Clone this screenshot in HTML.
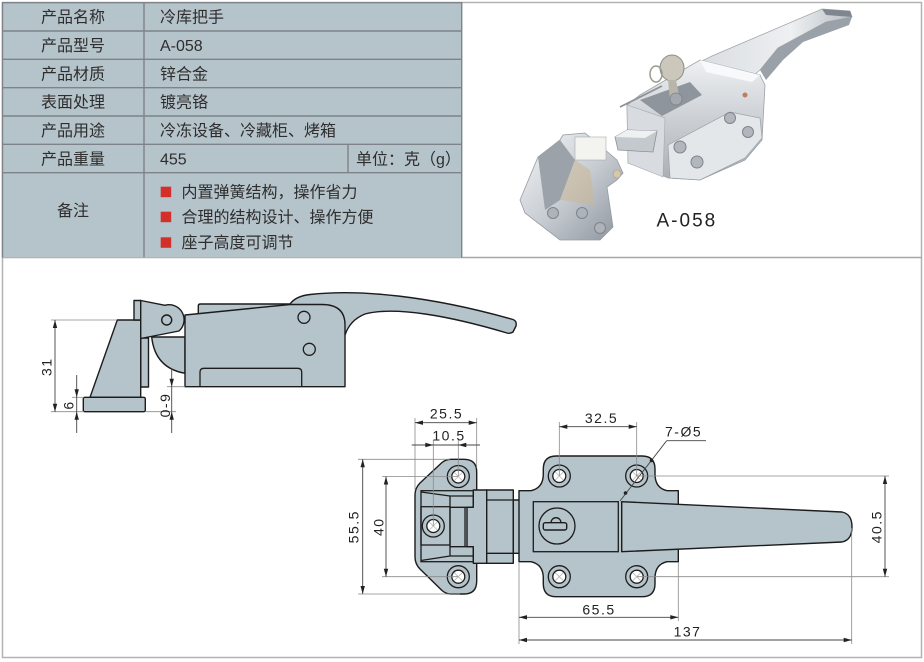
<!DOCTYPE html>
<html><head><meta charset="utf-8">
<style>
html,body{margin:0;padding:0;background:#fff;}
svg{display:block;}
.t{font-family:"Liberation Sans","Noto Sans CJK SC",sans-serif;font-size:16px;fill:#2e2e2e;}
.d{font-family:"Liberation Sans",sans-serif;font-size:14px;fill:#222;letter-spacing:1.5px;}
.o{fill:#b5c3ca;stroke:#1c1c1c;stroke-width:1.4;stroke-linejoin:round;}
.n{fill:none;stroke:#1c1c1c;stroke-width:1.3;}
.e{stroke:#8a8a8a;stroke-width:0.8;fill:none;}
.dl{stroke:#444;stroke-width:0.9;fill:none;}
.ah{fill:#222;}
</style></head>
<body>
<svg width="924" height="662" viewBox="0 0 924 662" xmlns="http://www.w3.org/2000/svg">
<defs>
<linearGradient id="ch" x1="0" y1="0" x2="1" y2="1">
<stop offset="0" stop-color="#f4f6f8"/><stop offset="0.5" stop-color="#c9ced4"/><stop offset="1" stop-color="#8c939b"/>
</linearGradient>
<linearGradient id="ch2" x1="0" y1="0" x2="0" y2="1">
<stop offset="0" stop-color="#eef0f2"/><stop offset="1" stop-color="#a9afb6"/>
</linearGradient>
<linearGradient id="hd" x1="0" y1="0" x2="1" y2="0">
<stop offset="0" stop-color="#d9dde1"/><stop offset="0.6" stop-color="#eef0f2"/><stop offset="1" stop-color="#b8bec4"/>
</linearGradient>
<g id="hole">
<circle r="11" fill="#b5c3ca" stroke="#1c1c1c" stroke-width="1.3"/>
<circle r="6.5" fill="#fff" stroke="#1c1c1c" stroke-width="1.3"/>
<path d="M-4,-4L4,4M-4,4L4,-4" stroke="#b8b8b8" stroke-width="0.8"/>
</g>
<path id="aU" d="M0,0 L-2.2,8 L2.2,8 Z"/>
<path id="aD" d="M0,0 L-2.2,-8 L2.2,-8 Z"/>
<path id="aL" d="M0,0 L8,-2.2 L8,2.2 Z"/>
<path id="aR" d="M0,0 L-8,-2.2 L-8,2.2 Z"/>
</defs>

<!-- outer frame -->
<rect x="2.5" y="2.5" width="919" height="655" fill="none" stroke="#b3b3b3" stroke-width="1.5"/>
<line x1="2" y1="257.5" x2="922" y2="257.5" stroke="#a8a8a8" stroke-width="1.5"/>

<!-- table -->
<rect x="2.5" y="2.5" width="459.2" height="255" fill="#b5c3ca"/>
<g stroke="#7d8388" stroke-width="1.4">
<line x1="2" y1="2.7" x2="462" y2="2.7"/>
<line x1="2" y1="31" x2="462" y2="31"/>
<line x1="2" y1="59.3" x2="462" y2="59.3"/>
<line x1="2" y1="87.7" x2="462" y2="87.7"/>
<line x1="2" y1="116" x2="462" y2="116"/>
<line x1="2" y1="144.3" x2="462" y2="144.3"/>
<line x1="2" y1="172.7" x2="462" y2="172.7"/>
<line x1="144" y1="2.7" x2="144" y2="257.3"/>
<line x1="348" y1="144.3" x2="348" y2="172.7"/>
<line x1="461.7" y1="2" x2="461.7" y2="257.5"/>
<line x1="2.5" y1="2" x2="2.5" y2="257.5"/>
</g>
<g class="t" text-anchor="middle">
<text x="73" y="22.5">产品名称</text>
<text x="73" y="51">产品型号</text>
<text x="73" y="79.3">产品材质</text>
<text x="73" y="107.6">表面处理</text>
<text x="73" y="136">产品用途</text>
<text x="73" y="164.3">产品重量</text>
<text x="73" y="216">备注</text>
</g>
<g class="t">
<text x="160" y="22.5">冷库把手</text>
<text x="160" y="51">A-058</text>
<text x="160" y="79.3">锌合金</text>
<text x="160" y="107.6">镀亮铬</text>
<text x="160" y="136">冷冻设备、冷藏柜、烤箱</text>
<text x="160" y="164.3">455</text>
<text x="356" y="164.3">单位：克（g）</text>
<text x="181.5" y="197.4">内置弹簧结构，操作省力</text>
<text x="181.5" y="222.4">合理的结构设计、操作方便</text>
<text x="181.5" y="248">座子高度可调节</text>
</g>
<g fill="#d3302a">
<rect x="160.7" y="186.7" width="10.5" height="10.5"/>
<rect x="160.7" y="211.7" width="10.5" height="10.5"/>
<rect x="160.7" y="237.3" width="10.5" height="10.5"/>
</g>

<!-- photo -->
<g>
<!-- handle -->
<polygon points="700,62 712,56 822,9 850,11 852,17 826,22 778,48 760,70 742,85 722,80" fill="url(#hd)" stroke="#a2a8ae" stroke-width="0.8"/>
<polygon points="760,70 778,48 826,22 852,17 849,25 803,42 783,60 766,80" fill="#9aa1a9"/>
<polygon points="822,9 850,11 852,17 826,15" fill="#7f868e"/>
<!-- body -->
<polygon points="627,105 640,95 700,60 760,75 765,85 762,140 745,160 700,180 668,178 655,172 628,163" fill="url(#ch2)" stroke="#9ba1a8" stroke-width="0.8"/>
<polygon points="627,105 665,118 663,177 628,163" fill="#d8dbdf" stroke="#a4aab0" stroke-width="0.6"/>
<polygon points="640,100 690,82 702,95 662,116" fill="#8f959c"/>
<polygon points="700,60 760,75 752,82 706,72" fill="#f8f9fa"/>
<polygon points="668,145 730,112 760,118 762,138 745,158 700,180 670,178" fill="#e4e7ea" stroke="#9aa0a6" stroke-width="0.7"/>
<g fill="#b2b7bd" stroke="#7d848b" stroke-width="1">
<circle cx="680" cy="147" r="6"/><circle cx="697" cy="162" r="6"/>
<circle cx="730" cy="118" r="5.5"/><circle cx="748" cy="132" r="5.5"/>
</g>
<circle cx="745" cy="95" r="2.5" fill="#b98060"/>
<!-- tongue -->
<polygon points="615,137 627,130 657,131 653,152 618,150" fill="#c4c9ce" stroke="#8b9198" stroke-width="0.8"/>
<polygon points="615,137 627,130 657,131 645,138" fill="#eef0f2"/>
<!-- key -->
<line x1="620" y1="107" x2="662" y2="86" stroke="#8d9298" stroke-width="1.8"/>
<ellipse cx="672" cy="68" rx="12" ry="13" fill="#cbc7bb" stroke="#8c8c84" stroke-width="1"/>
<ellipse cx="656" cy="74" rx="6" ry="8" fill="none" stroke="#9a9a92" stroke-width="1.5"/>
<polygon points="668,80 676,80 680,100 670,100" fill="#b9b5aa"/>
<circle cx="676" cy="99" r="6" fill="#a3a8ae" stroke="#7c8288" stroke-width="0.8"/>
<!-- keeper -->
<polygon points="520,200 538,157 560,140 563,135 585,133 617,160 623,173 617,180 607,187 613,227 600,240 560,240 525,213" fill="url(#ch)" stroke="#959ba2" stroke-width="0.8"/>
<polygon points="538,157 560,140 575,160 560,200 545,210" fill="#9ca2aa"/>
<polygon points="560,200 575,160 590,170 595,205" fill="#c9b79a" opacity="0.6"/>
<rect x="575" y="137" width="31" height="23" fill="#f3f3ef" stroke="#aaa" stroke-width="0.6"/>
<g fill="#aeb3b9" stroke="#7d848b" stroke-width="1">
<circle cx="553" cy="213" r="5.5"/><circle cx="582" cy="213" r="5.5"/><circle cx="600" cy="228" r="5.5"/>
</g>
<circle cx="617" cy="174" r="4" fill="#d8c8a8" stroke="#999" stroke-width="0.6"/>
<text x="656.5" y="226.7" font-family="Liberation Sans,sans-serif" font-size="19" fill="#222" letter-spacing="2">A-058</text>
</g>

<!-- SIDE VIEW -->
<rect class="o" x="140.7" y="338" width="7.8" height="49"/>
<polygon class="o" points="90,397.3 117.3,320 140.7,320 140.7,397.3"/>
<rect class="o" x="134" y="300.5" width="6.7" height="19.5"/>
<rect class="o" x="83.3" y="397.3" width="62" height="14.4" rx="1.5"/>
<path class="o" d="M151.7,337 L185,337 L185,373.3 Q155,368 151.7,337 Z"/>
<path class="o" d="M140.7,300.5 L165,305.3 A15,15 0 0 1 179,331 L140.7,338.5 Z"/>
<circle class="o" cx="166.7" cy="320" r="5"/>
<path class="o" d="M198.3,315 L198.3,306 Q198.3,304 200.5,304 L300,304 L300,315 Z"/>
<path class="o" d="M290,304 Q296,296 310,294.5 C360,289 430,296 513,319.5 Q517,321 516,326 L513,332 Q510,334 507,333 C450,316 395,306 365,314 Q350,320 345,335 L330,335 Z"/>
<path class="o" d="M185,315 L290,304.5 L322,304.5 Q345,304.5 345,325 L345,386.7 L185,386.7 Z"/>
<path class="n" d="M200,386.7 L200,372 Q200,368.3 204,368.3 L297.7,368.3 Q301.7,368.3 301.7,372 L301.7,386.7"/>
<circle class="n" cx="304" cy="317.3" r="6"/>
<circle class="n" cx="309.3" cy="349.3" r="6"/>

<!-- side dims -->
<line class="e" x1="51" y1="320" x2="117" y2="320"/>
<line class="e" x1="51" y1="411.7" x2="84" y2="411.7"/>
<line class="dl" x1="55" y1="320" x2="55" y2="411.7"/>
<use href="#aU" class="ah" x="55" y="320"/>
<use href="#aD" class="ah" x="55" y="411.7"/>
<text class="d" text-anchor="middle" transform="translate(51.7,366.7) rotate(-90)">31</text>

<line class="e" x1="72" y1="397.3" x2="84" y2="397.3"/>
<line class="dl" x1="76.7" y1="375" x2="76.7" y2="433"/>
<use href="#aD" class="ah" x="76.7" y="397.3"/>
<use href="#aU" class="ah" x="76.7" y="411.7"/>
<text class="d" text-anchor="middle" transform="translate(73.3,405) rotate(-90)">6</text>

<line class="e" x1="167" y1="386.7" x2="185" y2="386.7"/>
<line class="e" x1="145" y1="411.7" x2="176" y2="411.7"/>
<line class="dl" x1="171.7" y1="368" x2="171.7" y2="433"/>
<use href="#aD" class="ah" x="171.7" y="386.7"/>
<use href="#aU" class="ah" x="171.7" y="411.7"/>
<text class="d" text-anchor="middle" transform="translate(170,405) rotate(-90)">0-9</text>

<!-- TOP VIEW -->
<!-- keeper -->
<path class="o" d="M476.7,490 L476.7,472 Q476.7,459.3 464,459.3 L451,459.3 Q446,459.3 442,462.5 L420,483 Q415,488 415,495 L415,557 Q415,564 420,569 L442,590.5 Q446,594 451,594 L464,594 Q476.7,594 476.7,581 L476.7,563 Z"/>
<rect class="n" x="421" y="490.7" width="52.3" height="71"/>
<path class="n" d="M421,492 L450,496 M421,560.5 L450,556"/>
<rect class="n" x="421" y="506.7" width="29" height="38.3"/>
<path class="n" d="M450,496 L473.3,496 M450,556 L473.3,556 M450,496 L450,556 M465,507.3 L465,546.7 M450,507.3 L473.3,507.3 M450,546.7 L473.3,546.7"/>
<path class="o" d="M473.3,490 L486.7,490 L486.7,563.3 L473.3,563.3 L473.3,546.7 L467,546.7 L467,507.3 L473.3,507.3 Z"/>
<rect class="o" x="486.7" y="490" width="26.6" height="73.3"/>
<path class="n" d="M486.7,500 L513.3,500 M486.7,553.3 L513.3,553.3"/>
<rect class="o" x="513.3" y="500" width="6" height="53.3"/>
<use href="#hole" x="458.3" y="476.5"/>
<use href="#hole" x="458.3" y="576.7"/>
<use href="#hole" x="433.3" y="526"/>

<!-- main plate -->
<path class="o" d="M519,490.7 L531,490.7 Q543.3,488 543.3,474 L543.3,469 Q543.3,456 556.3,456 L642,456 Q655,456 655,469 L655,474 Q655,488 667,490.7 L678.3,490.7 L678.3,561.7 L667,561.7 Q655,564.5 655,578 L655,583.7 Q655,596.7 642,596.7 L556.3,596.7 Q543.3,596.7 543.3,583.7 L543.3,578 Q543.3,564.5 531,561.7 L519,561.7 Z"/>
<rect class="n" x="533.3" y="501.7" width="85" height="50"/>
<line class="n" x1="621.7" y1="501.7" x2="621.7" y2="551.7"/>
<circle class="n" cx="557" cy="526" r="18"/>
<path class="n" d="M551,522.7 A5,5 0 0 1 561,522.7"/>
<rect class="o" x="543.3" y="522.7" width="23.4" height="7.3" rx="2"/>
<path class="o" d="M621.7,501.7 L842,512 Q852,514 852,527 Q852,540 842,542 L621.7,551.7 Z"/>
<use href="#hole" x="559.3" y="476"/>
<use href="#hole" x="636.7" y="476"/>
<use href="#hole" x="559.3" y="576.7"/>
<use href="#hole" x="636.7" y="576.7"/>

<!-- top view dims -->
<line class="e" x1="415" y1="418" x2="415" y2="490"/>
<line class="e" x1="476.7" y1="418" x2="476.7" y2="468"/>
<line class="dl" x1="415" y1="422.7" x2="476.7" y2="422.7"/>
<use href="#aL" class="ah" x="415" y="422.7"/>
<use href="#aR" class="ah" x="476.7" y="422.7"/>
<text class="d" text-anchor="middle" x="446.5" y="418.5">25.5</text>

<line class="e" x1="433.3" y1="440" x2="433.3" y2="526"/>
<line class="e" x1="458.3" y1="440" x2="458.3" y2="476"/>
<line class="dl" x1="411.7" y1="445" x2="480" y2="445"/>
<use href="#aR" class="ah" x="433.3" y="445"/>
<use href="#aL" class="ah" x="458.3" y="445"/>
<text class="d" text-anchor="middle" x="449" y="440.5">10.5</text>

<line class="e" x1="358" y1="459.3" x2="450" y2="459.3"/>
<line class="e" x1="358" y1="594" x2="460" y2="594"/>
<line class="dl" x1="362.7" y1="459.3" x2="362.7" y2="594"/>
<use href="#aU" class="ah" x="362.7" y="459.3"/>
<use href="#aD" class="ah" x="362.7" y="594"/>
<text class="d" text-anchor="middle" transform="translate(358.5,526.7) rotate(-90)">55.5</text>

<line class="e" x1="382" y1="476.5" x2="458" y2="476.5"/>
<line class="e" x1="382" y1="576.7" x2="458" y2="576.7"/>
<line class="dl" x1="386" y1="476.5" x2="386" y2="576.7"/>
<use href="#aU" class="ah" x="386" y="476.5"/>
<use href="#aD" class="ah" x="386" y="576.7"/>
<text class="d" text-anchor="middle" transform="translate(383.5,526.7) rotate(-90)">40</text>

<line class="e" x1="559.3" y1="422" x2="559.3" y2="476"/>
<line class="e" x1="636.7" y1="422" x2="636.7" y2="476"/>
<line class="dl" x1="559.3" y1="426.7" x2="636.7" y2="426.7"/>
<use href="#aL" class="ah" x="559.3" y="426.7"/>
<use href="#aR" class="ah" x="636.7" y="426.7"/>
<text class="d" text-anchor="middle" x="601.5" y="423">32.5</text>

<text class="d" x="665" y="436.5">7-Ø5</text>
<line class="dl" x1="666.7" y1="440.7" x2="706" y2="440.7"/>
<line class="dl" x1="666.7" y1="440.7" x2="620" y2="501"/>
<circle cx="651.5" cy="460.5" r="1.8" fill="#222"/>
<circle cx="625.5" cy="493" r="1.8" fill="#222"/>

<line class="e" x1="637" y1="476" x2="889" y2="476"/>
<line class="e" x1="637" y1="576.7" x2="889" y2="576.7"/>
<line class="dl" x1="885" y1="476" x2="885" y2="576.7"/>
<use href="#aU" class="ah" x="885" y="476"/>
<use href="#aD" class="ah" x="885" y="576.7"/>
<text class="d" text-anchor="middle" transform="translate(881.5,526.7) rotate(-90)">40.5</text>

<line class="e" x1="519" y1="562" x2="519" y2="644"/>
<line class="e" x1="678.3" y1="562" x2="678.3" y2="621"/>
<line class="e" x1="851.7" y1="528" x2="851.7" y2="644"/>
<line class="dl" x1="519" y1="617.3" x2="678.3" y2="617.3"/>
<use href="#aL" class="ah" x="519" y="617.3"/>
<use href="#aR" class="ah" x="678.3" y="617.3"/>
<text class="d" text-anchor="middle" x="599" y="614.5">65.5</text>
<line class="dl" x1="519" y1="640" x2="851.7" y2="640"/>
<use href="#aL" class="ah" x="519" y="640"/>
<use href="#aR" class="ah" x="851.7" y="640"/>
<text class="d" text-anchor="middle" x="687.5" y="636.5">137</text>
</svg>
</body></html>
